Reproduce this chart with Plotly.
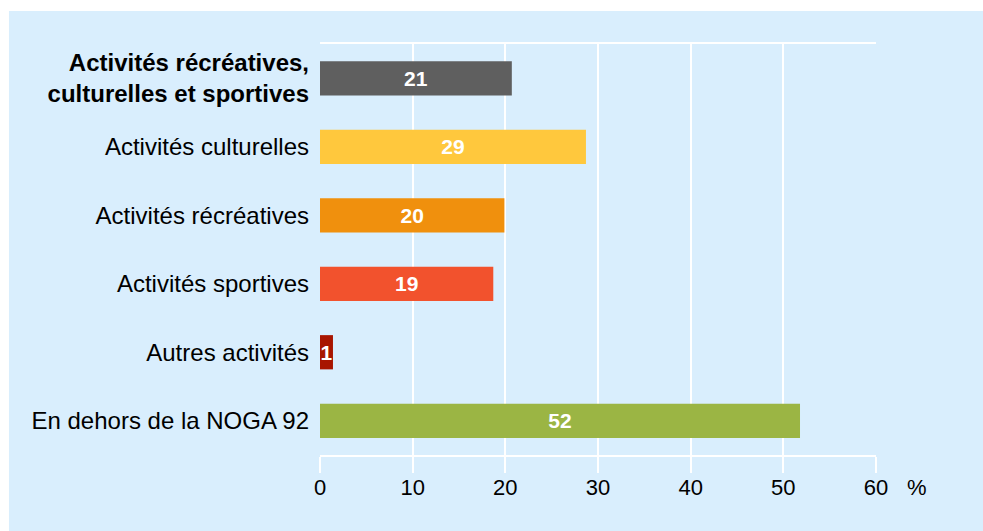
import plotly.graph_objects as go

# data (top to bottom)
categories = [
    "<b>Activités récréatives,<br>culturelles et sportives</b>",
    "Activités culturelles",
    "Activités récréatives",
    "Activités sportives",
    "Autres activités",
    "En dehors de la NOGA 92",
]
values = [20.7, 28.7, 19.9, 18.7, 1.4, 51.8]
labels = ["21", "29", "20", "19", "1", "52"]
colors = ["#5f5f5f", "#ffc83d", "#f0900d", "#f2522d", "#a81500", "#9bb544"]
x_ticks = [0, 10, 20, 30, 40, 50, 60]

bg_blue = "#d9eefd"
font_family = "Liberation Sans, Arial"

fig = go.Figure()

fig.add_trace(
    go.Bar(
        y=categories,
        x=values,
        orientation="h",
        marker=dict(color=colors, line=dict(width=0)),
        width=0.5,
        text=labels,
        textposition="inside",
        insidetextanchor="middle",
        constraintext="none",
        textfont=dict(family=font_family, size=21, color="white", weight="bold"),
        cliponaxis=False,
        hoverinfo="skip",
    )
)

# thin white border along the top and left of the light blue panel
fig.add_shape(
    type="rect", xref="paper", yref="paper",
    x0=-0.6, x1=1.3, y0=1.0805, y1=1.3,
    fillcolor="white", line=dict(width=0), layer="below",
)
fig.add_shape(
    type="rect", xref="paper", yref="paper",
    x0=-0.6, x1=-0.5594, y0=-0.3, y1=1.3,
    fillcolor="white", line=dict(width=0), layer="below",
)

fig.add_annotation(
    text="%", xref="paper", yref="paper", x=1, y=0,
    xanchor="center", yanchor="middle", xshift=41, yshift=-32,
    showarrow=False, font=dict(family=font_family, size=22, color="black"),
)

fig.update_layout(
    width=983,
    height=531,
    margin=dict(l=320, r=107, t=44, b=76),
    paper_bgcolor=bg_blue,
    plot_bgcolor=bg_blue,
    showlegend=False,
    bargap=0.5,
    font=dict(family=font_family, size=24, color="black"),
)

fig.update_xaxes(
    range=[0, 60],
    tickvals=x_ticks,
    showgrid=True,
    gridcolor="white",
    gridwidth=2,
    zeroline=False,
    showline=True,
    linecolor="white",
    linewidth=2,
    mirror=True,
    ticks="outside",
    ticklen=16,
    tickwidth=2,
    tickcolor="white",
    ticklabelstandoff=-4,
    tickfont=dict(size=22, color="black"),
)

fig.update_yaxes(
    categoryorder="array",
    categoryarray=categories[::-1],
    range=[-0.5, 5.5],
    showgrid=False,
    zeroline=False,
    showline=False,
    ticks="",
    ticklabelstandoff=10,
    tickfont=dict(size=24, color="black"),
)

page_js = (
    "document.body.style.margin='0';"
    "document.body.style.overflow='hidden';"
    "document.body.style.background='" + bg_blue + "';"
    "document.documentElement.style.background='" + bg_blue + "';"
)

fig.write_html(
    "out.html",
    config={"displayModeBar": False},
    post_script=page_js,
)
